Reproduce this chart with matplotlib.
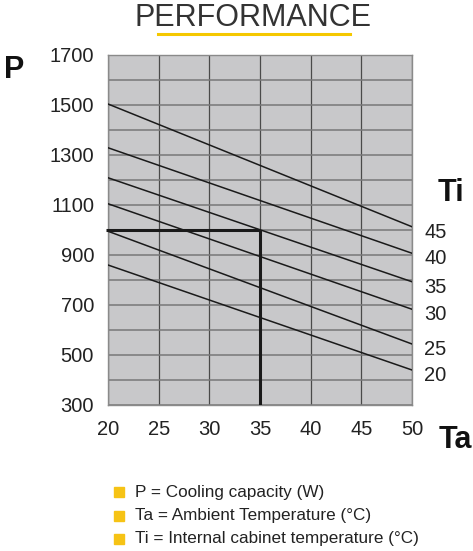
import matplotlib
matplotlib.use("Agg")
import matplotlib.pyplot as plt
from matplotlib.patches import Rectangle
from matplotlib.lines import Line2D

# Data
ta = [20, 50]
ti_labels = ["45", "40", "35", "30", "25", "20"]
p_start = [1504, 1329, 1209, 1105, 995, 860]
p_end = [1013, 907, 793, 683, 544, 440]
example_ta = 35
example_p = 1000
x_ticks = [20, 25, 30, 35, 40, 45, 50]
y_ticks = [300, 500, 700, 900, 1100, 1300, 1500, 1700]
legend_items = ["P = Cooling capacity (W)",
                "Ta = Ambient Temperature (°C)",
                "Ti = Internal cabinet temperature (°C)"]

W, H = 473, 551
fig = plt.figure(figsize=(W / 100, H / 100), dpi=100)
ax = fig.add_axes([108 / W, 1 - 405 / H, 304 / W, 350 / H])
ax.set_facecolor("#c8c8ca")
ax.set_xlim(20, 50)
ax.set_ylim(300, 1700)

for x in range(20, 51, 5):
    ax.axvline(x, color="#4a4a4a", lw=0.9, zorder=1)
for y in range(300, 1701, 100):
    ax.axhline(y, color="#787878", lw=1.1, zorder=1)

for s, e in zip(p_start, p_end):
    ax.plot(ta, [s, e], color="#1a1a1a", lw=1.1, zorder=3)

ax.plot([19.85, example_ta], [example_p, example_p], color="#1a1a1a", lw=2.2,
        zorder=4, clip_on=False, solid_capstyle="butt")
ax.plot([example_ta, example_ta], [300, example_p], color="#1a1a1a", lw=2.2,
        zorder=4, solid_capstyle="butt")

for sp in ax.spines.values():
    sp.set_color("#8a8a8a")
    sp.set_linewidth(1.0)

ax.set_xticks(x_ticks)
ax.set_yticks(y_ticks)
ax.tick_params(length=0, labelsize=14.5, colors="#222222")
ax.tick_params(axis="x", pad=11)
ax.tick_params(axis="y", pad=10)
for lab in ax.get_xticklabels() + ax.get_yticklabels():
    lab.set_fontfamily("Liberation Sans")

# Ti labels at right
for lab, e in zip(ti_labels, p_end):
    ax.text(51.2, e - 22, lab, fontsize=14.5, color="#222222", va="center",
            ha="left", family="Liberation Sans", clip_on=False)

# Axis letters
fig.text(14 / W, 1 - 70 / H, "P", fontsize=22, fontweight="bold",
         family="Liberation Sans", ha="center", va="center", color="#111111")
fig.text(451 / W, 1 - 193 / H, "Ti", fontsize=22, fontweight="bold",
         family="Liberation Sans", ha="center", va="center", color="#111111")
fig.text(455 / W, 1 - 440 / H, "Ta", fontsize=22, fontweight="bold",
         family="Liberation Sans", ha="center", va="center", color="#111111")

# Title
fig.text(253 / W, 1 - 18 / H, "PERFORMANCE", fontsize=22, fontweight="normal",
         family="Liberation Sans", ha="center", va="center", color="#333333")
fig.add_artist(Line2D([158 / W, 350 / W], [1 - 34 / H, 1 - 34 / H],
                      color="#f5c800", lw=2.2))

# Legend
for i, item in enumerate(legend_items):
    yc = 492 + i * 23.5
    fig.add_artist(Rectangle((114 / W, 1 - (yc + 5) / H), 10 / W, 10 / H,
                             color="#f6c315", transform=fig.transFigure))
    fig.text(135 / W, 1 - yc / H, item, fontsize=12.3, family="Liberation Sans",
             ha="left", va="center", color="#222222")

fig.savefig("out.png", dpi=100)
